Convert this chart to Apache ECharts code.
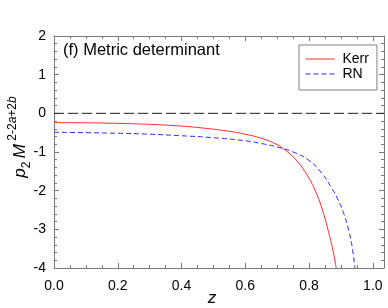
<!DOCTYPE html>
<html>
<head>
<meta charset="utf-8">
<script src="https://cdn.jsdelivr.net/npm/echarts@6/dist/echarts.min.js"></script>
<style>html,body{margin:0;padding:0;background:#fff;}#c{width:388px;height:308px;}</style>
</head>
<body>
<div id="c"></div>
<script>
var kerrZ = [0, 0.1, 0.2, 0.3, 0.4, 0.45, 0.5, 0.55, 0.6, 0.65, 0.7, 0.72, 0.74, 0.76, 0.78, 0.8, 0.82, 0.84, 0.86, 0.875, 0.885];
var kerrV = [-0.24, -0.245, -0.26, -0.285, -0.33, -0.365, -0.41, -0.465, -0.54, -0.645, -0.81, -0.92, -1.05, -1.21, -1.42, -1.68, -2.01, -2.45, -3.03, -3.55, -4.0];
var rnZ = [0, 0.1, 0.2, 0.3, 0.4, 0.5, 0.6, 0.65, 0.7, 0.75, 0.8, 0.84, 0.87, 0.89, 0.91, 0.925, 0.935, 0.944];
var rnV = [-0.49, -0.50, -0.515, -0.54, -0.58, -0.63, -0.71, -0.78, -0.87, -1.0, -1.22, -1.55, -1.92, -2.22, -2.62, -3.05, -3.45, -4.0];
var zeroLineZ = [0, 1.035];
var zeroLineV = [0, 0];
var xTicks = [0, 0.2, 0.4, 0.6, 0.8, 1.0];
var yTicks = [-4, -3, -2, -1, 0, 1, 2];

function pairs(a, b) { return a.map(function (v, i) { return [v, b[i]]; }); }

var axisGray = '#7a7a7a';
var chart = echarts.init(document.getElementById('c'));
var baseX = {
  type: 'value', min: 0, max: 1.035, interval: 0.2,
  axisLine: { show: true, onZero: false, lineStyle: { color: axisGray, width: 1 } },
  axisTick: { show: true, inside: true, length: 5, lineStyle: { color: axisGray } },
  minorTick: { show: true, splitNumber: 4, length: 3, lineStyle: { color: axisGray } },
  splitLine: { show: false }, minorSplitLine: { show: false }
};
var baseY = {
  type: 'value', min: -4, max: 2, interval: 1,
  axisLine: { show: true, onZero: false, lineStyle: { color: axisGray, width: 1 } },
  axisTick: { show: true, inside: true, length: 5, lineStyle: { color: axisGray } },
  minorTick: { show: true, splitNumber: 5, length: 3, lineStyle: { color: axisGray } },
  splitLine: { show: false }, minorSplitLine: { show: false }
};
var labelFont = { fontFamily: 'Liberation Sans, Arial, sans-serif', fontSize: 14, color: '#000' };

chart.setOption({
  animation: false,
  backgroundColor: '#fff',
  grid: { left: 54, right: 4, top: 36, height: 232 },
  xAxis: [
    Object.assign({}, baseX, {
      position: 'bottom',
      axisLabel: Object.assign({
        margin: 11,
        formatter: function (v) {
          for (var i = 0; i < xTicks.length; i++) if (Math.abs(v - xTicks[i]) < 1e-6) return xTicks[i].toFixed(1);
          return '';
        }
      }, labelFont)
    }),
    Object.assign({}, baseX, { position: 'top', axisLabel: { show: false } })
  ],
  yAxis: [
    Object.assign({}, baseY, {
      position: 'left',
      axisLabel: Object.assign({
        margin: 8,
        formatter: function (v) { return yTicks.indexOf(v) >= 0 ? String(v) : ''; }
      }, labelFont)
    }),
    Object.assign({}, baseY, { position: 'right', axisLabel: { show: false } })
  ],
  legend: {
    orient: 'vertical', left: 299, top: 45,
    data: ['Kerr', 'RN'],
    itemWidth: 29, itemHeight: 14, itemGap: 1,
    padding: [7, 8, 9, 6],
    borderColor: '#808080', borderWidth: 1, borderRadius: 0,
    itemStyle: { color: 'rgba(0,0,0,0)', borderWidth: 0, opacity: 0 },
    lineStyle: { width: 1 },
    textStyle: { fontFamily: 'Liberation Sans, Arial, sans-serif', fontSize: 14, color: '#000', padding: [0, 0, 0, 3] }
  },
  graphic: [
    {
      type: 'text', left: 63, top: 42,
      style: { text: '(f) Metric determinant', fontFamily: 'Liberation Sans, Arial, sans-serif', fontSize: 16.5, fill: '#000' }
    },
    {
      type: 'text', x: 20, y: 137, rotation: Math.PI / 2,
      style: {
        text: '{i|p}{sub|2} {i|M}{sup| 2-2}{supi|a}{sup|+2}{supi|b}',
        align: 'center', verticalAlign: 'middle',
        rich: {
          i: { fontFamily: 'Liberation Sans, Arial, sans-serif', fontStyle: 'italic', fontSize: 17, fill: '#000', lineHeight: 26, verticalAlign: 'middle' },
          sub: { fontFamily: 'Liberation Sans, Arial, sans-serif', fontSize: 12, fill: '#000', lineHeight: 26, verticalAlign: 'bottom' },
          sup: { fontFamily: 'Liberation Sans, Arial, sans-serif', fontSize: 12, fill: '#000', lineHeight: 26, verticalAlign: 'top' },
          supi: { fontFamily: 'Liberation Sans, Arial, sans-serif', fontStyle: 'italic', fontSize: 12, fill: '#000', lineHeight: 26, verticalAlign: 'top' }
        }
      }
    },
    {
      type: 'text', x: 212, y: 298,
      style: { text: 'z', fontFamily: 'Liberation Sans, Arial, sans-serif', fontStyle: 'italic', fontSize: 17, fill: '#000', align: 'center', verticalAlign: 'middle' }
    }
  ],
  series: [
    {
      name: 'zero', type: 'line', data: pairs(zeroLineZ, zeroLineV), symbol: 'none', silent: true,
      lineStyle: { color: '#1a1a1a', width: 1, type: [10, 4] }, z: 1
    },
    {
      name: 'Kerr', type: 'line', data: pairs(kerrZ, kerrV), symbol: 'none', smooth: 0.5,
      lineStyle: { color: '#ff2a2a', width: 1 }, itemStyle: { color: '#ff2a2a' }
    },
    {
      name: 'RN', type: 'line', data: pairs(rnZ, rnV), symbol: 'none', smooth: 0.5,
      lineStyle: { color: '#2a2aff', width: 1, type: [5, 3] }, itemStyle: { color: '#2a2aff' }
    }
  ]
});
</script>
</body>
</html>
